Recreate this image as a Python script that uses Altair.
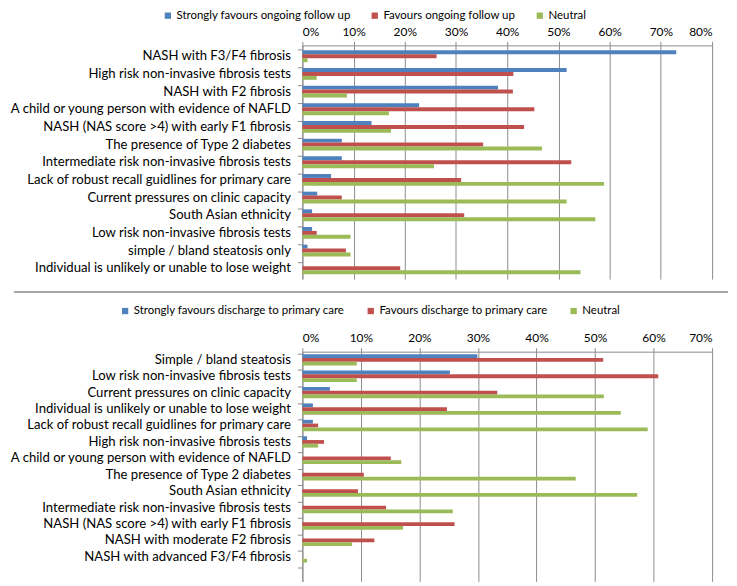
import altair as alt
import pandas as pd

series_top = ["Strongly favours ongoing follow up", "Favours ongoing follow up", "Neutral"]
series_bottom = ["Strongly favours discharge to primary care", "Favours discharge to primary care", "Neutral"]
colors = ["#4F81BD", "#C0504D", "#9BBB59"]

top_categories = [
    "NASH with F3/F4 fibrosis",
    "High risk non-invasive fibrosis tests",
    "NASH with F2 fibrosis",
    "A child or young person with evidence of NAFLD",
    "NASH (NAS score >4) with early F1 fibrosis",
    "The presence of Type 2 diabetes",
    "Intermediate risk non-invasive fibrosis tests",
    "Lack of robust recall guidlines for primary care",
    "Current pressures on clinic capacity",
    "South Asian ethnicity",
    "Low risk non-invasive fibrosis tests",
    "simple / bland steatosis only",
    "Individual is unlikely or unable to lose weight",
]
top_strong = [73.0, 51.6, 38.2, 22.8, 13.5, 7.7, 7.7, 5.6, 2.9, 1.9, 1.9, 1.0, 0.0]
top_favour = [26.2, 41.2, 41.1, 45.3, 43.3, 35.3, 52.5, 31.0, 7.7, 31.6, 2.8, 8.5, 19.1]
top_neutral = [1.0, 2.8, 8.7, 16.9, 17.3, 46.8, 25.7, 58.9, 51.6, 57.2, 9.4, 9.4, 54.3]

bottom_categories = [
    "Simple / bland steatosis",
    "Low risk non-invasive fibrosis tests",
    "Current pressures on clinic capacity",
    "Individual is unlikely or unable to lose weight",
    "Lack of robust recall guidlines for primary care",
    "High risk non-invasive fibrosis tests",
    "A child or young person with evidence of NAFLD",
    "The presence of Type 2 diabetes",
    "South Asian ethnicity",
    "Intermediate risk non-invasive fibrosis tests",
    "NASH (NAS score >4) with early F1 fibrosis",
    "NASH with moderate F2 fibrosis",
    "NASH with advanced F3/F4 fibrosis",
]
bottom_strong = [29.9, 25.2, 4.7, 1.8, 1.8, 0.8, 0.0, 0.0, 0.0, 0.0, 0.0, 0.0, 0.0]
bottom_favour = [51.4, 60.8, 33.3, 24.7, 2.7, 3.7, 15.1, 10.5, 9.5, 14.3, 26.0, 12.3, 0.0]
bottom_neutral = [9.3, 9.3, 51.5, 54.4, 59.0, 2.7, 16.9, 46.7, 57.2, 25.7, 17.2, 8.5, 0.8]

FONT = "Lato"
GRID = "#8c8c8c"


def make_df(cats, names, arrays):
    rows = []
    for i, c in enumerate(cats):
        for s, arr in zip(names, arrays):
            rows.append({"category": c, "series": s, "value": arr[i] / 100.0})
    return pd.DataFrame(rows)


def panel(cats, names, arrays, xmax, height, domain, pad_inner, pad_outer, lx, ly, colpad):
    df = make_df(cats, names, arrays)
    ticks = [i / 10 for i in range(int(round(xmax * 10)) + 1)]
    return alt.Chart(df).mark_bar().encode(
        y=alt.Y(
            "category:N",
            sort=domain,
            scale=alt.Scale(domain=domain, paddingInner=pad_inner, paddingOuter=pad_outer),
            axis=alt.Axis(
                title=None, labelFont=FONT, labelFontSize=13.2, labelColor="#000000",
                labelLimit=400, tickSize=5, tickColor=GRID, domainColor=GRID,
                labelPadding=7, bandPosition=0,
            ),
        ),
        yOffset=alt.YOffset("series:N", sort=names, scale=alt.Scale(domain=names, paddingInner=0, paddingOuter=0)),
        x=alt.X(
            "value:Q",
            scale=alt.Scale(domain=[0, xmax], nice=False),
            axis=alt.Axis(
                title=None, orient="top", format=".0%", values=ticks, grid=True,
                gridColor=GRID, gridOpacity=1, domainColor=GRID, tickColor=GRID,
                tickSize=4, labelPadding=3, labelFont=FONT, labelFontSize=12,
                labelColor="#000000",
            ),
        ),
        color=alt.Color(
            "series:N",
            sort=names,
            scale=alt.Scale(domain=names, range=colors),
            legend=alt.Legend(
                title=None, orient="none", legendX=lx, legendY=ly, direction="horizontal",
                symbolType="square", symbolSize=40, symbolStrokeWidth=0, labelLimit=400,
                labelFont=FONT, labelFontSize=11.5, labelColor="#000000", columnPadding=colpad,
                labelOffset=3,
            ),
        ),
    ).properties(width=412, height=height)


top = panel(top_categories, series_top, [top_strong, top_favour, top_neutral],
            0.8, 235, top_categories, 0.33, 0.28, -141, -36, 18)

bottom_domain = bottom_categories + [" "]
bottom_bars = panel(bottom_categories, series_bottom, [bottom_strong, bottom_favour, bottom_neutral],
                    0.7, 231, bottom_domain, 0.31, 0.15, -184, -47, 20)

sep = alt.Chart(pd.DataFrame({"a": [0]})).mark_rule(color="#a6a6a6", strokeWidth=2).encode(
    x=alt.value(-290), x2=alt.value(428), y=alt.value(-60)
)

bottom = alt.layer(bottom_bars, sep)

chart = alt.vconcat(top, bottom, spacing=12).resolve_scale(
    x="independent", y="independent", color="independent", yOffset="independent"
).resolve_legend(color="independent").configure_view(stroke=None).properties(
    padding=0, background="white"
)

chart.save("out.html", embed_options={"renderer": "svg", "actions": False})
